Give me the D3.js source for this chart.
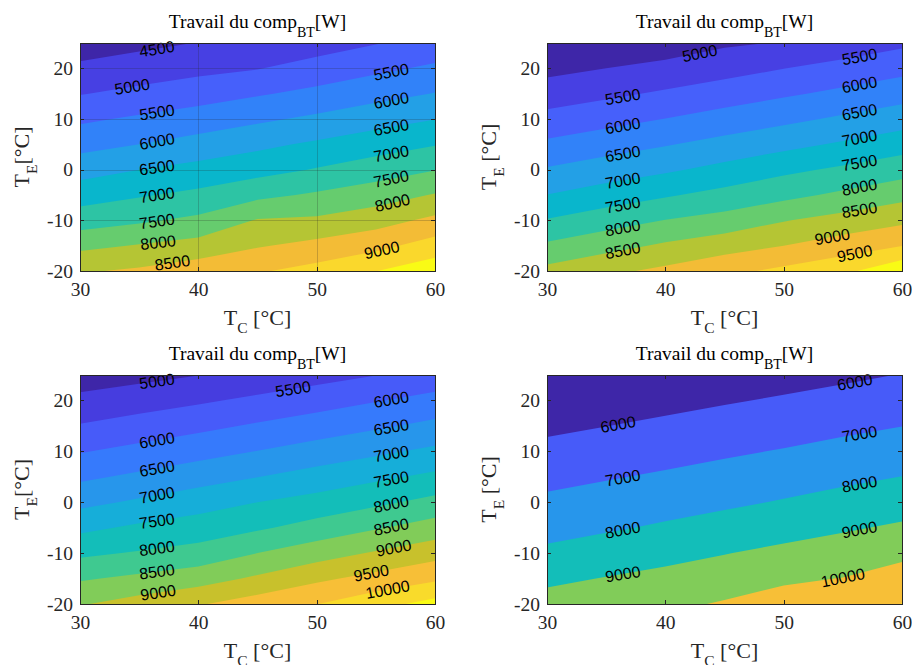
<!DOCTYPE html>
<html>
<head>
<meta charset="utf-8">
<script src="https://cdn.jsdelivr.net/npm/d3@7"></script>
<style>
  body { margin: 0; background: #fff; }
  svg { display: block; }
  .tick text { font-family: "Liberation Serif", "Times New Roman", serif; font-size: 19.5px; fill: #262626; }
  .tick line { stroke: #262626; }
</style>
</head>
<body>
<svg id="fig" width="912" height="665"></svg>
<script>
var tcGrid = [30, 35, 40, 45, 50, 55, 60]
var teGrid = [-20, -15, -10, -5, 0, 5, 10, 15, 20, 25]
var xTicks = [30, 40, 50, 60]
var yTicks = [-20, -10, 0, 10, 20]

// compressor work [W] : one row per T_E (-20 up to 25), one column per T_C (30 to 60)
var work1 = [
  [8447, 8576, 8778, 8950, 9167, 9490, 9810],
  [7879, 8033, 8188, 8458, 8650, 8864, 9214],
  [7260, 7425, 7611, 8034, 8083, 8291, 8619],
  [6783, 6955, 7115, 7375, 7570, 7760, 8035],
  [6300, 6500, 6661, 6828, 7033, 7260, 7480],
  [5833, 6000, 6186, 6385, 6580, 6769, 6971],
  [5412, 5576, 5728, 5909, 6098, 6298, 6491],
  [4978, 5127, 5282, 5452, 5630, 5830, 6019],
  [4604, 4739, 4866, 4978, 5190, 5392, 5586],
  [4230, 4377, 4514, 4610, 4778, 4975, 5177]
]
var work2 = [
  [8643, 8889, 9111, 9366, 9612, 9872, 10400],
  [8087, 8333, 8574, 8796, 9000, 9244, 9488],
  [7533, 7773, 8011, 8182, 8473, 8681, 8891],
  [7010, 7229, 7447, 7655, 7864, 8098, 8341],
  [6546, 6741, 6926, 7149, 7389, 7588, 7796],
  [6098, 6282, 6464, 6660, 6856, 7064, 7281],
  [5658, 5833, 6009, 6200, 6382, 6577, 6775],
  [5250, 5403, 5570, 5750, 5930, 6111, 6300],
  [4859, 5000, 5144, 5307, 5491, 5667, 5848],
  [4520, 4610, 4720, 4930, 5028, 5196, 5402]
]
var work3 = [
  [8960, 9202, 9457, 9738, 9990, 10324, 10672],
  [8444, 8607, 8780, 9083, 9400, 9659, 9915],
  [7898, 8044, 8186, 8500, 8780, 9049, 9310],
  [7383, 7589, 7734, 7931, 8186, 8455, 8721],
  [6868, 7074, 7292, 7500, 7685, 7900, 8148],
  [6404, 6594, 6788, 6990, 7194, 7400, 7606],
  [5966, 6143, 6321, 6510, 6708, 6904, 7108],
  [5534, 5702, 5875, 6063, 6245, 6427, 6625],
  [5129, 5275, 5431, 5602, 5783, 5971, 6164],
  [4726, 4858, 4990, 5152, 5315, 5490, 5680]
]
var work4 = [
  [9400, 9607, 9789, 10089, 10425, 10675, 11010],
  [8786, 9045, 9263, 9528, 9840, 10026, 10398],
  [8190, 8452, 8709, 8965, 9222, 9455, 9782],
  [7673, 7885, 8128, 8384, 8636, 8888, 9141],
  [7192, 7404, 7618, 7833, 8068, 8326, 8567],
  [6722, 6925, 7127, 7343, 7560, 7788, 8011],
  [6259, 6458, 6654, 6858, 7060, 7283, 7500],
  [5796, 5991, 6187, 6387, 6581, 6788, 6990],
  [5333, 5523, 5720, 5915, 6105, 6308, 6510],
  [5010, 5056, 5252, 5443, 5629, 5827, 6029]
]

// contour spacing of each plot
var step1 = 500, step2 = 500, step3 = 500, step4 = 1000

// inline labels : [level, T_C where the label sits]
var labels1 = [[4500, 36.5], [5000, 34.4], [5500, 36.5], [6000, 36.5], [6500, 36.5], [7000, 36.5],
  [7500, 36.5], [8000, 36.6], [8500, 37.8], [5500, 56.3], [6000, 56.3], [6500, 56.3],
  [7000, 56.3], [7500, 56.3], [8000, 56.4], [9000, 55.5]]
var labels2 = [[5000, 42.9], [5500, 36.4], [6000, 36.4], [6500, 36.4], [7000, 36.4], [7500, 36.4],
  [8000, 36.4], [8500, 36.4], [5500, 56.4], [6000, 56.4], [6500, 56.4], [7000, 56.4],
  [7500, 56.4], [8000, 56.4], [8500, 56.4], [9000, 54.1], [9500, 56.0]]
var labels3 = [[5000, 36.5], [6000, 36.5], [6500, 36.5], [7000, 36.5], [7500, 36.5], [8000, 36.5],
  [8500, 36.5], [9000, 36.6], [5500, 48.0], [6000, 56.3], [6500, 56.3], [7000, 56.3],
  [7500, 56.3], [8000, 56.3], [8500, 56.3], [9000, 56.5], [9500, 54.6], [10000, 56.0]]
var labels4 = [[6000, 36.0], [7000, 36.4], [8000, 36.4], [9000, 36.4], [6000, 56.0], [7000, 56.4],
  [8000, 56.4], [9000, 56.4], [10000, 55.0]]

// parula, every third entry of the 64 colour table
var parulaHex = ['#3e26a8', '#4332cb', '#4741e5', '#4852f4', '#4563fd', '#3875fe', '#2e87f7', '#2796eb',
  '#20a5e3', '#12b1d6', '#02bac3', '#24c1ae', '#37c897', '#57cc7a', '#81cc59', '#abc739',
  '#d1bf27', '#f0ba36', '#fec338', '#fad62d', '#f5e924', '#f9fb15']
var parula = d3.piecewise(d3.interpolateRgb, parulaHex)

var serif = '"Liberation Serif", "Times New Roman", serif'
var ink = '#262626'

var panels = [
  {work: work1, step: step1, labels: labels1, left: 80, right: 435, top: 43, bottom: 271, grid: true, yUnit: '[°C]', row: 0},
  {work: work2, step: step2, labels: labels2, left: 547, right: 902, top: 43, bottom: 271, grid: false, yUnit: ' [°C]', row: 0},
  {work: work3, step: step3, labels: labels3, left: 80, right: 435, top: 375, bottom: 604, grid: false, yUnit: '[°C]', row: 1},
  {work: work4, step: step4, labels: labels4, left: 547, right: 902, top: 375, bottom: 604, grid: false, yUnit: ' [°C]', row: 1}
]

var svg = d3.select('svg#fig')
var defs = svg.append('defs')
defs.append('clipPath').attr('id', 'row0').append('rect').attr('x', 0).attr('y', 0).attr('width', 912).attr('height', 333)
defs.append('clipPath').attr('id', 'row1').append('rect').attr('x', 0).attr('y', 333).attr('width', 912).attr('height', 332)

panels.forEach(function(p, k) {
  var x = d3.scaleLinear().domain([tcGrid[0], tcGrid[tcGrid.length - 1]]).range([p.left, p.right])
  var y = d3.scaleLinear().domain([teGrid[0], teGrid[teGrid.length - 1]]).range([p.bottom, p.top])
  var nx = tcGrid.length, ny = teGrid.length

  defs.append('clipPath').attr('id', 'plot' + k).append('rect')
    .attr('x', p.left).attr('y', p.top).attr('width', p.right - p.left).attr('height', p.bottom - p.top)

  var g = svg.append('g').attr('clip-path', 'url(#row' + p.row + ')')

  // filled contours, levels like matlab picks them
  var values = p.work.flat()
  var l0 = Math.floor(d3.min(values) / p.step) * p.step
  var l1 = Math.floor(d3.max(values) / p.step) * p.step
  var levels = d3.range(l0, l1 + p.step / 2, p.step)
  var contours = d3.contours().size([nx, ny]).thresholds(levels)(values)

  var ci = d3.scaleLinear().domain([0, nx - 1]).range([tcGrid[0], tcGrid[nx - 1]])
  var ri = d3.scaleLinear().domain([0, ny - 1]).range([teGrid[0], teGrid[ny - 1]])
  var proj = d3.geoTransform({
    point: function(px, py) { this.stream.point(x(ci(px - 0.5)), y(ri(py - 0.5))) }
  })
  var path = d3.geoPath(proj)

  g.append('g').attr('clip-path', 'url(#plot' + k + ')')
    .selectAll('path')
    .data(contours)
    .enter().append('path')
      .attr('d', path)
      .attr('fill', function(d) { return parula((d.value - l0) / (l1 - l0)) })

  if (p.grid) {
    var gg = g.append('g').attr('stroke', ink).attr('stroke-opacity', 0.22).attr('stroke-width', 1)
    gg.selectAll('line.gx').data(xTicks.slice(1, -1)).enter().append('line')
      .attr('x1', function(d) { return Math.round(x(d)) + 0.5 }).attr('x2', function(d) { return Math.round(x(d)) + 0.5 })
      .attr('y1', p.top).attr('y2', p.bottom)
    gg.selectAll('line.gy').data(yTicks.slice(1)).enter().append('line')
      .attr('y1', function(d) { return Math.round(y(d)) + 0.5 }).attr('y2', function(d) { return Math.round(y(d)) + 0.5 })
      .attr('x1', p.left).attr('x2', p.right)
  }

  // contour labels, placed on the level line of the grid
  function colAt(tc) {
    var f = (tc - tcGrid[0]) / (tcGrid[1] - tcGrid[0])
    var i = Math.min(Math.floor(f), nx - 2)
    var w = f - i
    return p.work.map(function(row) { return row[i] * (1 - w) + row[i + 1] * w })
  }
  function teAt(tc, level) {
    var col = colAt(tc)
    for (var j = 0; j < ny - 1; j++) {
      var a = col[j], b = col[j + 1]
      if ((a - level) * (b - level) <= 0 && a !== b) {
        return teGrid[j] + (level - a) / (b - a) * (teGrid[j + 1] - teGrid[j])
      }
    }
    return null
  }

  p.labels.forEach(function(l) {
    var te = teAt(l[1], l[0])
    if (te === null) return
    var ta = teAt(l[1] - 1.5, l[0]), tb = teAt(l[1] + 1.5, l[0])
    var ang = 0
    if (ta !== null && tb !== null) {
      ang = Math.atan2(y(tb) - y(ta), x(l[1] + 1.5) - x(l[1] - 1.5)) * 180 / Math.PI
    }
    g.append('text')
      .attr('transform', 'translate(' + x(l[1]) + ',' + y(te) + ') rotate(' + ang + ')')
      .attr('text-anchor', 'middle')
      .attr('dy', '0.36em')
      .style('font-family', '"Liberation Sans", Arial, sans-serif')
      .style('font-size', '16px')
      .attr('fill', '#000')
      .text(l[0])
  })

  // axes, ticks inside on all four sides
  var fmt = function(d) { return String(d) }
  var ax = g.append('g').attr('transform', 'translate(0,' + p.bottom + ')')
    .call(d3.axisBottom(x).tickValues(xTicks).tickSize(-4).tickPadding(11).tickFormat(fmt))
  var ay = g.append('g').attr('transform', 'translate(' + p.left + ',0)')
    .call(d3.axisLeft(y).tickValues(yTicks).tickSize(-4).tickPadding(7).tickFormat(fmt))
  var at = g.append('g').attr('transform', 'translate(0,' + p.top + ')')
    .call(d3.axisTop(x).tickValues(xTicks).tickSize(-4).tickFormat(''))
  var ar = g.append('g').attr('transform', 'translate(' + p.right + ',0)')
    .call(d3.axisRight(y).tickValues(yTicks).tickSize(-4).tickFormat(''))
  ;[ax, ay, at, ar].forEach(function(a) {
    a.select('.domain').remove()
    a.selectAll('line').attr('shape-rendering', 'crispEdges')
  })

  g.append('rect')
    .attr('x', p.left).attr('y', p.top)
    .attr('width', p.right - p.left).attr('height', p.bottom - p.top)
    .attr('fill', 'none').attr('stroke', ink).attr('stroke-width', 1)
    .attr('shape-rendering', 'crispEdges')

  var mid = (p.left + p.right) / 2

  var title = g.append('text')
    .attr('x', mid).attr('y', p.top - 15)
    .attr('text-anchor', 'middle')
    .style('font-family', serif).style('font-size', '19.5px')
    .attr('fill', '#000')
  title.append('tspan').text('Travail du comp')
  title.append('tspan').attr('dy', 8.5).style('font-size', '14px').text('BT')
  title.append('tspan').attr('dy', -8.5).text('[W]')

  var xl = g.append('text')
    .attr('x', mid).attr('y', p.bottom + 54)
    .attr('text-anchor', 'middle')
    .style('font-family', serif).style('font-size', '22px').style('white-space', 'pre')
    .attr('fill', ink)
  xl.append('tspan').text('T')
  xl.append('tspan').attr('dy', 8).style('font-size', '15.5px').text('C')
  xl.append('tspan').attr('dy', -8).text(' [°C]')

  var yl = g.append('text')
    .attr('transform', 'translate(' + (p.left - 51) + ',' + ((p.top + p.bottom) / 2) + ') rotate(-90)')
    .attr('text-anchor', 'middle')
    .style('font-family', serif).style('font-size', '22px').style('white-space', 'pre')
    .attr('fill', ink)
  yl.append('tspan').text('T')
  yl.append('tspan').attr('dy', 8).style('font-size', '15.5px').text('E')
  yl.append('tspan').attr('dy', -8).text(p.yUnit)
})
</script>
</body>
</html>
